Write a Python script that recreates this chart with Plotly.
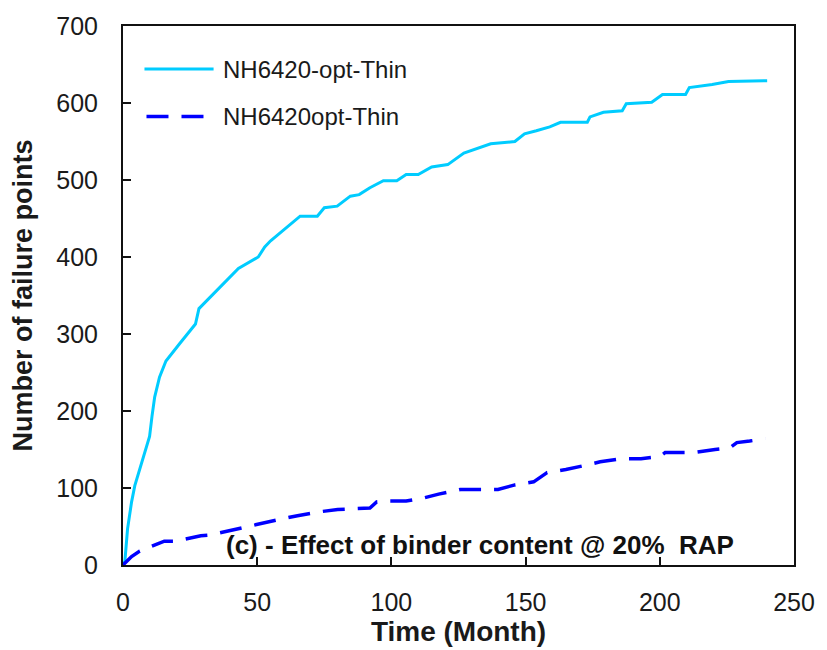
import plotly.graph_objects as go

# Series 1: NH6420-opt-Thin (cyan solid)
t_opt = [0, 0.7, 1.7, 3.2, 4.4, 6.25, 8.1, 9.9, 10.8, 11.8, 13.6, 16, 21, 27, 28.3, 34.4,
         43, 50.4, 52.8, 55, 62, 66, 72.4, 75, 79.8, 84.7, 88, 92, 97, 102, 105.5, 110,
         115, 121, 127, 132, 137, 146, 149.6, 154, 159, 163, 173, 174, 179, 186, 187.5,
         197, 201, 209.6, 211, 219.5, 225.6, 240]
v_opt = [0, 5, 47, 82, 103, 124, 146, 167, 193, 218, 244, 265, 287, 313, 333, 355,
         385, 400, 413, 421, 441, 453, 453, 464, 466, 479, 481, 490, 499, 499, 507, 507,
         517, 520, 535, 541, 547, 550, 560, 564, 569, 575, 575, 582, 588, 590, 599,
         601, 611, 611, 620, 624, 628, 629]

# Series 2: NH6420opt-Thin (blue dashed)
t_opt2 = [0, 1.9, 3.2, 6.25, 11.8, 15.4, 19.7, 25, 29, 32.6, 38.7, 46, 52, 58, 65, 73,
          80, 84.7, 92, 94.5, 99, 105.5, 112, 117.6, 125.7, 132, 139.7, 146, 153, 158,
          165, 171.7, 177.8, 185.7, 193, 200, 202, 212.8, 218, 220.6, 226, 228.7, 233.5, 239.3]
v_opt2 = [0, 7, 11, 18, 26, 31, 31, 35, 38, 39, 44, 50, 54, 59, 64, 69,
          72, 73, 74, 82, 83, 83, 87, 92, 98, 98, 98, 104, 108, 120,
          124, 129, 134, 138, 138, 141, 146, 146, 149, 150, 152, 159, 161, 164]

names = ["NH6420-opt-Thin", "NH6420opt-Thin"]
x_ticks = [0, 50, 100, 150, 200, 250]
y_ticks = [0, 100, 200, 300, 400, 500, 600, 700]

CYAN = "#00CCFF"
BLUE = "#0000FF"
FONT = "Liberation Sans, Arial, sans-serif"
DASH = "22px,13px"

fig = go.Figure()
fig.add_trace(go.Scatter(x=t_opt, y=v_opt, mode="lines", name=names[0],
                         line=dict(color=CYAN, width=3), showlegend=False))
fig.add_trace(go.Scatter(x=t_opt2, y=v_opt2, mode="lines", name=names[1],
                         line=dict(color=BLUE, width=3.5, dash=DASH), showlegend=False))

# manual legend
fig.add_shape(type="line", xref="paper", yref="paper", x0=0.032, x1=0.135, y0=0.92, y1=0.92,
              line=dict(color=CYAN, width=3))
fig.add_shape(type="line", xref="paper", yref="paper", x0=0.035, x1=0.125, y0=0.832, y1=0.832,
              line=dict(color=BLUE, width=3.5, dash=DASH))
for nm, yy in zip(names, [0.92, 0.832]):
    fig.add_annotation(text=nm, xref="paper", yref="paper", x=0.146, y=yy, xanchor="left",
                       yanchor="middle", showarrow=False, font=dict(family=FONT, size=24, color="#1a1a1a"))

fig.add_annotation(text="<b>(c) - Effect of binder content @ 20%&nbsp; RAP</b>", xref="paper", yref="paper",
                   x=0.532, y=0.038, xanchor="center", yanchor="middle", showarrow=False,
                   font=dict(family=FONT, size=26, color="#111"))

fig.update_layout(
    width=827, height=650,
    margin=dict(l=123, r=24, t=21, b=83),
    plot_bgcolor="white", paper_bgcolor="white",
    font=dict(family=FONT, size=25, color="#1a1a1a"),
)
fig.update_xaxes(range=[0, 250], tickvals=x_ticks, ticks="inside", ticklen=8, tickwidth=1.5,
                 tickcolor="#111", showline=True, linecolor="#111", linewidth=2, mirror=True,
                 showgrid=False, zeroline=False, ticklabelstandoff=14,
                 title=dict(text="<b>Time (Month)</b>", font=dict(size=28), standoff=2))
fig.update_yaxes(range=[0, 700], tickvals=y_ticks, ticks="inside", ticklen=8, tickwidth=1.5,
                 tickcolor="#111", showline=True, linecolor="#111", linewidth=2, mirror=True,
                 showgrid=False, zeroline=False, ticklabelstandoff=18,
                 title=dict(text="<b>Number of failure points</b>", font=dict(size=27), standoff=16))

fig.write_html("out.html")
